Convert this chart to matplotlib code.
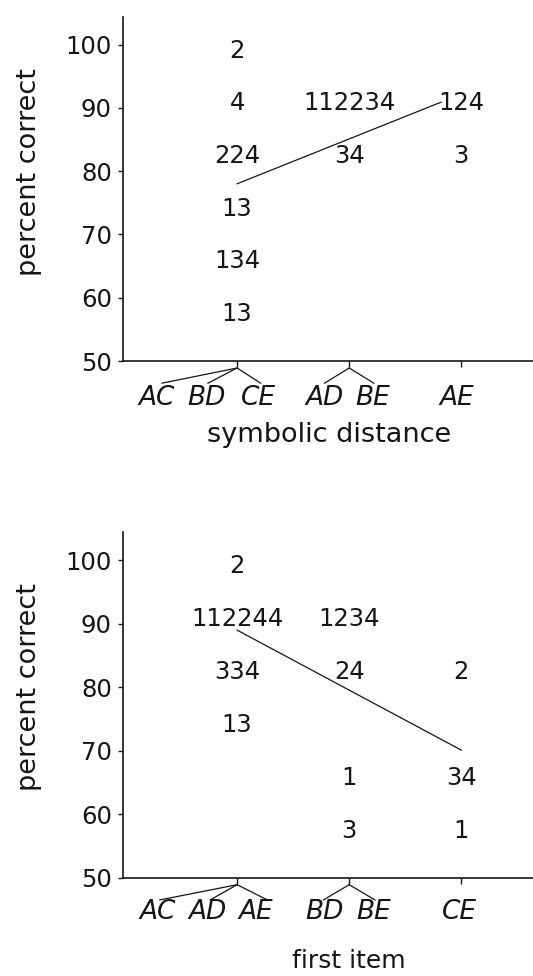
import matplotlib.pyplot as plt

plt.rcParams['font.family'] = 'DejaVu Sans'

# * percent correct per subject (digits = subject numbers), 12 trials -> steps of 8.3
top_col = [1, 1, 1, 1, 1, 1, 2, 2, 3, 3]
top_pct = [100, 91.7, 83.3, 75, 66.7, 58.3, 91.7, 83.3, 91.7, 83.3]
top_subj = ['2', '4', '224', '13', '134', '13', '112234', '34', '124', '3']
top_fit_x = [1.0, 2.82]
top_fit_y = [78.0, 90.9]
top_pairs = ['AC', 'BD', 'CE', 'AD', 'BE', 'AE']
top_pair_col = [1, 1, 1, 2, 2, 3]

bot_col = [1, 1, 1, 1, 2, 2, 2, 2, 3, 3, 3]
bot_pct = [100, 91.7, 83.3, 75, 91.7, 83.3, 66.7, 58.3, 83.3, 66.7, 58.3]
bot_subj = ['2', '112244', '334', '13', '1234', '24', '1', '3', '2', '34', '1']
bot_fit_x = [1.0, 3.0]
bot_fit_y = [89.0, 70.1]
bot_pairs = ['AC', 'AD', 'AE', 'BD', 'BE', 'CE']
bot_pair_col = [1, 1, 1, 2, 2, 3]

# * posicoes dos rotulos de pares e fim das linhas de chave
top_pair_x = [0.28, 0.73, 1.19, 1.78, 2.21, 2.96]
top_pair_end = [0.33, 0.74, 1.21, 1.78, 2.22, None]
bot_pair_x = [0.29, 0.74, 1.17, 1.78, 2.22, 2.98]
bot_pair_end = [0.31, 0.76, 1.27, 1.77, 2.23, None]

ink = '#151515'


def panel(ax, ytop, cols, pct, subj, fit_x, fit_y, pairs, pair_x, pair_col,
          pair_end, pair_y, xlab, xlab_size, xlab_pos, ylab_pos):
    ax.set_xlim(-0.018, 3.64)
    ax.set_ylim(50, ytop)
    for s in ['top', 'right']:
        ax.spines[s].set_visible(False)
    for s in ['left', 'bottom']:
        ax.spines[s].set_linewidth(1.2)
        ax.spines[s].set_color(ink)
    ax.set_yticks(range(50, 101, 10))
    ax.set_xticks([1, 2, 3])
    ax.set_xticklabels([])
    ax.tick_params(axis='y', direction='out', length=3.5, width=1, pad=4.5,
                   labelsize=17.5, colors=ink)
    ax.tick_params(axis='x', direction='out', length=4, width=1, colors=ink)

    for c, p, s in zip(cols, pct, subj):
        ax.annotate(s, (c, p), xytext=(0, -2.5), textcoords='offset points',
                    ha='center', va='center_baseline', fontsize=17.5, color=ink)

    ax.plot(fit_x, fit_y, color=ink, lw=0.9)

    for name, x, c, e in zip(pairs, pair_x, pair_col, pair_end):
        ax.text(x, pair_y, name, style='italic', ha='center', va='center',
                fontsize=19, color=ink, clip_on=False)
        if e is not None:
            ax.plot([c, e], [48.9, 46.5], color=ink, lw=0.9, clip_on=False)

    ax.set_xlabel(xlab, fontsize=xlab_size, color=ink)
    ax.xaxis.set_label_coords(*xlab_pos)
    ax.xaxis.label.set_va('center')
    ax.set_ylabel('percent correct', fontsize=19.5, color=ink)
    ax.yaxis.set_label_coords(*ylab_pos)
    ax.yaxis.label.set_va('center')


fig = plt.figure(figsize=(5.33, 9.76), dpi=100)
ax1 = fig.add_axes([0.2308, 0.6301, 0.7692, 0.3528])
ax2 = fig.add_axes([0.2308, 0.1007, 0.7692, 0.3545])

panel(ax1, 104.4, top_col, top_pct, top_subj, top_fit_x, top_fit_y,
      top_pairs, top_pair_x, top_pair_col, top_pair_end, 44.2,
      'symbolic distance', 19.5, (0.502, -0.215), (-0.229, 0.549))
panel(ax2, 104.5, bot_col, bot_pct, bot_subj, bot_fit_x, bot_fit_y,
      bot_pairs, bot_pair_x, bot_pair_col, bot_pair_end, 44.6,
      'first item', 18, (0.550, -0.240), (-0.229, 0.552))

fig.savefig('out.png', dpi=100)
